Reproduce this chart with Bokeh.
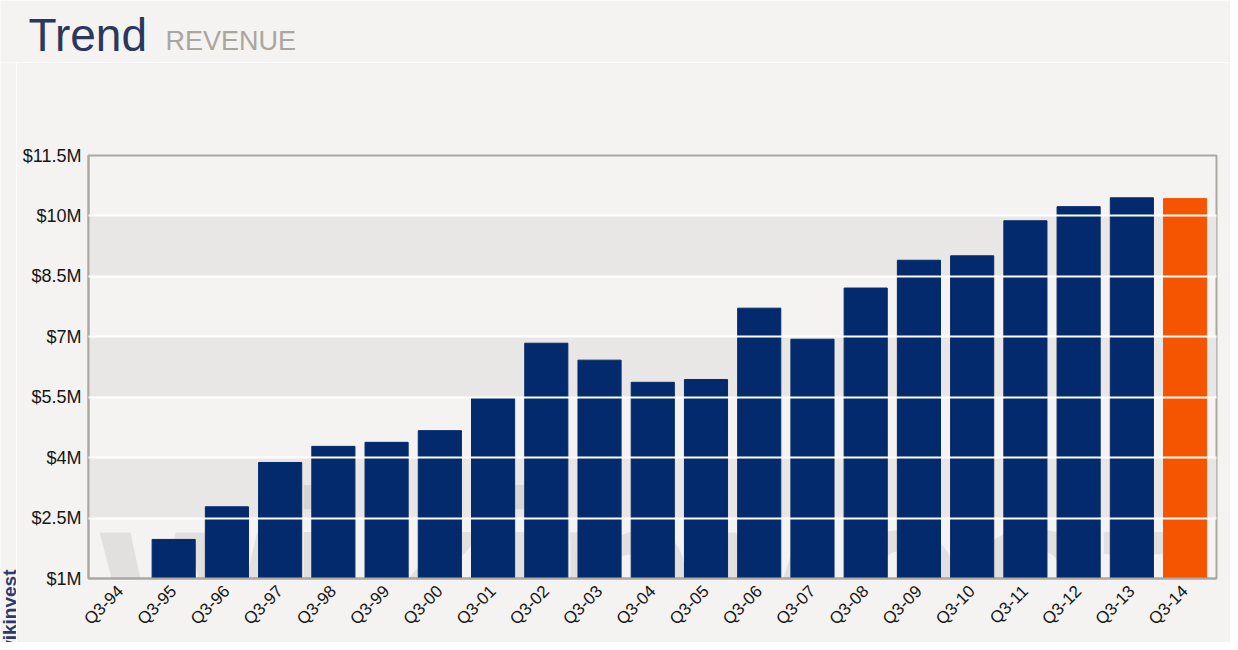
import math
import numpy as np
from bokeh.plotting import figure
from bokeh.layouts import column, row
from bokeh.models import Range1d, FixedTicker, Label, ColumnDataSource
from bokeh.core.properties import value
from bokeh.embed import file_html
from bokeh.resources import INLINE

# ---- data (revenue in $ millions) ----
categories = ["Q3-94", "Q3-95", "Q3-96", "Q3-97", "Q3-98", "Q3-99", "Q3-00",
              "Q3-01", "Q3-02", "Q3-03", "Q3-04", "Q3-05", "Q3-06", "Q3-07",
              "Q3-08", "Q3-09", "Q3-10", "Q3-11", "Q3-12", "Q3-13", "Q3-14"]
revenue_m = [float("nan"), 1.97, 2.78, 3.88, 4.28, 4.38, 4.67,
             5.48, 6.84, 6.42, 5.87, 5.94, 7.71, 6.94,
             8.21, 8.90, 9.01, 9.88, 10.23, 10.45, 10.43]
y_ticks = [1.0, 2.5, 4.0, 5.5, 7.0, 8.5, 10.0, 11.5]
y_tick_labels = ["$1M", "$2.5M", "$4M", "$5.5M", "$7M", "$8.5M", "$10M", "$11.5M"]
title_text = "Trend"
subtitle_text = "REVENUE"
logo_text = "wikinvest"

# ---- styles ----
BG = "#f4f3f1"
BAND = "#e9e7e5"
NAVY = "#022a6c"
ORANGE = "#f55500"
FRAME = "#aba7a3"
TEXT = "#161616"
FONT = "Liberation Sans"

TOTAL_W = 1230
HEADER_H = 62
MAIN_H = 580
STRIP_W = 16


def bare_figure(w, h):
    f = figure(width=w, height=h, output_backend="svg", toolbar_location=None, title=None,
               x_range=Range1d(0, w), y_range=Range1d(0, h),
               x_axis_location=None, y_axis_location=None,
               min_border=0, min_border_left=0, min_border_right=0,
               min_border_top=0, min_border_bottom=0, frame_align=False)
    f.grid.visible = False
    f.outline_line_color = None
    f.background_fill_color = BG
    f.border_fill_color = BG
    return f


# ---- header ----
header = bare_figure(TOTAL_W, HEADER_H)
header.add_layout(Label(x=28, y=27.5, text=title_text, text_font=FONT, text_font_size="46px",
                        text_color="#2b375c", text_baseline="middle"))
header.add_layout(Label(x=165, y=22, text=subtitle_text, text_font=FONT, text_font_size="27px",
                        text_color="#aba59f", text_baseline="middle"))

# ---- left strip with logo ----
strip = bare_figure(STRIP_W, MAIN_H)
strip.add_layout(Label(x=8.5, y=73, text=logo_text, angle=math.pi / 2, text_align="right",
                       text_baseline="middle", text_font=FONT, text_font_style="bold",
                       text_font_size="19px", text_color="#2b3a6b"))

# ---- main chart ----
n = len(categories)
idx = list(range(n))
colors = [NAVY] * (n - 1) + [ORANGE]
src = ColumnDataSource(data=dict(x=idx, top=np.array(revenue_m, dtype=float), color=colors))

x_start, x_end = -0.6, n - 0.41
p = figure(width=TOTAL_W - STRIP_W, height=MAIN_H, output_backend="svg", toolbar_location=None,
           title=None,
           x_range=Range1d(x_start, x_end), y_range=Range1d(y_ticks[0], y_ticks[-1]),
           min_border_left=72, min_border_right=14, min_border_top=93, min_border_bottom=64,
           frame_align=False)
p.background_fill_color = BG
p.border_fill_color = BG
p.outline_line_color = FRAME
p.outline_line_width = 2

# alternating background bands (between every other pair of y ticks)
band_bottoms = y_ticks[1:-1:2]
band_tops = y_ticks[2::2]
p.quad(left=x_start, right=x_end, bottom=band_bottoms, top=band_tops,
       fill_color=BAND, line_color=None)

# faint watermark behind the bars
p.text(x=[x_start + 0.22], y=[y_ticks[0] + 0.05], text=[logo_text],
       text_font=value(FONT), text_font_style="bold", text_font_size="240px",
       text_color="#000000", text_alpha=0.075, text_baseline="alphabetic")

p.vbar(x="x", top="top", bottom=y_ticks[0], width=0.81, color="color", source=src)

# white grid lines over bars
p.xgrid.visible = False
p.ygrid.ticker = FixedTicker(ticks=y_ticks[1:-1])
p.ygrid.grid_line_color = "white"
p.ygrid.grid_line_width = 2
p.ygrid.level = "overlay"

# axes
p.yaxis.ticker = FixedTicker(ticks=y_ticks)
p.yaxis.major_label_overrides = {t: l for t, l in zip(y_ticks, y_tick_labels)}
p.xaxis.ticker = FixedTicker(ticks=idx)
p.xaxis.major_label_overrides = {i: c for i, c in zip(idx, categories)}
p.xaxis.major_label_orientation = math.pi / 4
for ax in (p.xaxis, p.yaxis):
    ax.axis_line_color = FRAME
    ax.axis_line_width = 2
    ax.major_tick_line_color = None
    ax.minor_tick_line_color = None
    ax.major_tick_in = 0
    ax.major_tick_out = 0
    ax.major_label_text_font = FONT
    ax.major_label_text_color = TEXT
p.yaxis.major_label_text_font_size = "18px"
p.yaxis.major_label_standoff = 7
p.xaxis.major_label_text_font_size = "17px"
p.xaxis.major_label_standoff = 10

layout = column(header, row(strip, p, spacing=0), spacing=0)
html = file_html(layout, INLINE, title="Trend REVENUE")
html = html.replace("<body>", '<body style="background-color: %s;">' % BG, 1)
open("out.html", "w").write(html)
